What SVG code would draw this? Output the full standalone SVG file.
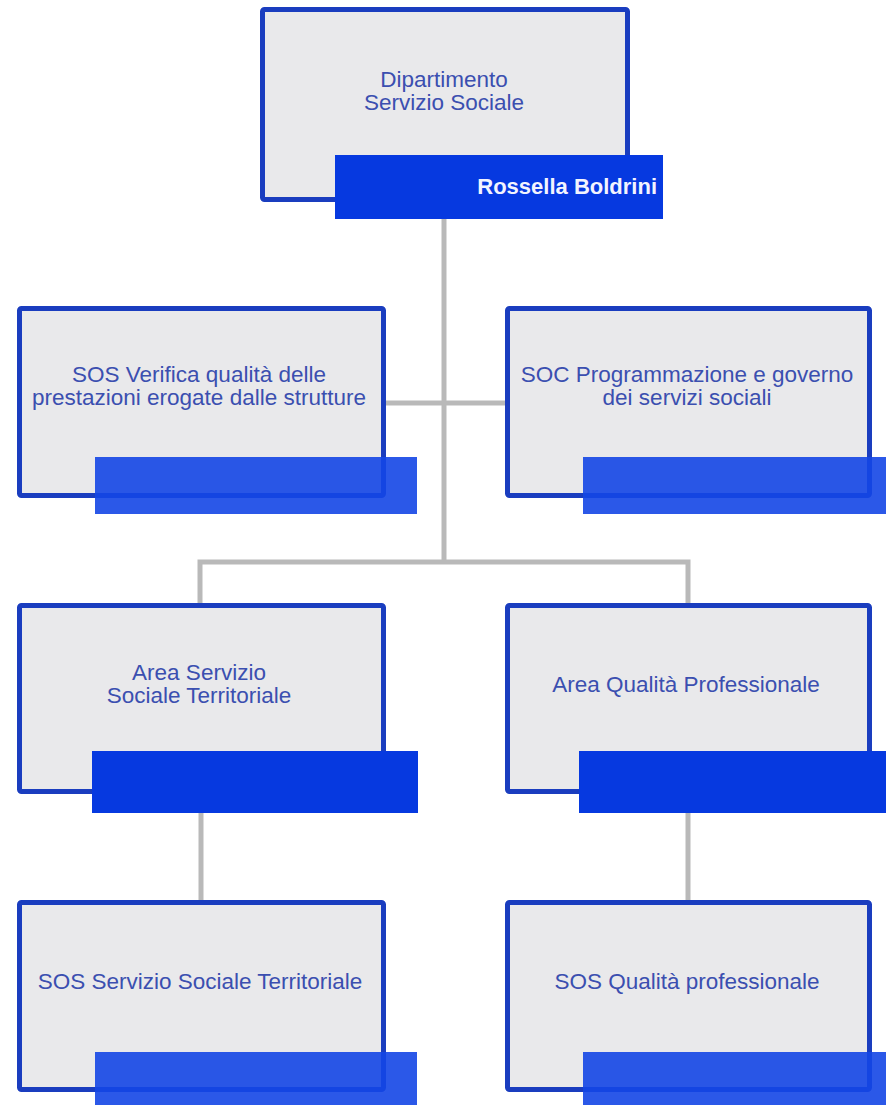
<svg xmlns="http://www.w3.org/2000/svg" width="886" height="1105" viewBox="0 0 886 1105">
  <style>
    .box { fill: #e9e9eb; stroke: #1a3dbf; stroke-width: 5; }
    .bar { fill: #0639e0; }
    .bar-lt { fill: #1446e6; opacity: 0.9; }
    .lbl { font-family: "Liberation Sans", Arial, sans-serif; font-size: 22.5px; fill: #3b4fb0; text-anchor: middle; }
    .name { font-family: "Liberation Sans", Arial, sans-serif; font-size: 22px; font-weight: bold; fill: #f2f4ff; text-anchor: end; }
    .link { fill: none; stroke: #b9b9b9; stroke-width: 5; }
  </style>

  <rect width="886" height="1105" fill="#ffffff"/>

  <g id="connectors">
    <path class="link" d="M444 219 V562"/>
    <path class="link" d="M380 403 H510"/>
    <path class="link" d="M200 603 V562 H688 V603"/>
    <path class="link" d="M201 813 V900"/>
    <path class="link" d="M688 813 V900"/>
  </g>

  <g id="node-dipartimento">
    <rect class="box" x="262.5" y="9.5" width="365" height="190" rx="2"/>
    <text class="lbl" x="444" y="87">Dipartimento</text>
    <text class="lbl" x="444" y="110">Servizio Sociale</text>
    <rect class="bar" x="335" y="155" width="328" height="64"/>
    <text class="name" x="657" y="194">Rossella Boldrini</text>
  </g>

  <g id="node-sos-verifica">
    <rect class="box" x="19.5" y="308.5" width="364" height="187" rx="2"/>
    <text class="lbl" x="199" y="382">SOS Verifica qualità delle</text>
    <text class="lbl" x="199" y="405">prestazioni erogate dalle strutture</text>
    <rect class="bar-lt" x="95" y="457" width="322" height="57"/>
  </g>

  <g id="node-soc-programmazione">
    <rect class="box" x="507.5" y="308.5" width="362" height="187" rx="2"/>
    <text class="lbl" x="687" y="382">SOC Programmazione e governo</text>
    <text class="lbl" x="687" y="405">dei servizi  sociali</text>
    <rect class="bar-lt" x="583" y="457" width="310" height="57"/>
  </g>

  <g id="node-area-territoriale">
    <rect class="box" x="19.5" y="605.5" width="364" height="186" rx="2"/>
    <text class="lbl" x="199" y="680">Area Servizio</text>
    <text class="lbl" x="199" y="703">Sociale Territoriale</text>
    <rect class="bar" x="92" y="751" width="326" height="62"/>
  </g>

  <g id="node-area-qualita">
    <rect class="box" x="507.5" y="605.5" width="362" height="186" rx="2"/>
    <text class="lbl" x="686" y="692">Area Qualità Professionale</text>
    <rect class="bar" x="579" y="751" width="314" height="62"/>
  </g>

  <g id="node-sos-territoriale">
    <rect class="box" x="19.5" y="902.5" width="364" height="187" rx="2"/>
    <text class="lbl" x="200" y="989">SOS Servizio Sociale Territoriale</text>
    <rect class="bar-lt" x="95" y="1052" width="322" height="60"/>
  </g>

  <g id="node-sos-qualita">
    <rect class="box" x="507.5" y="902.5" width="362" height="187" rx="2"/>
    <text class="lbl" x="687" y="989">SOS Qualità professionale</text>
    <rect class="bar-lt" x="583" y="1052" width="310" height="60"/>
  </g>
</svg>
